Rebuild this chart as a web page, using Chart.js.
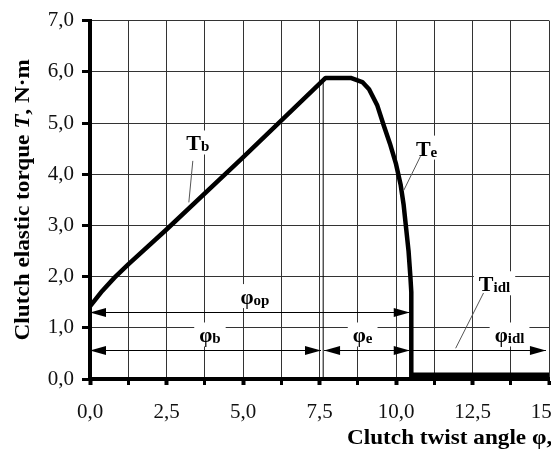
<!DOCTYPE html>
<html>
<head>
<meta charset="utf-8">
<script src="https://cdn.jsdelivr.net/npm/chart.js@4"></script>
<style>
  html, body { margin: 0; padding: 0; background: #fff; overflow: hidden; }
  #wrap { width: 600px; height: 452px; }
</style>
</head>
<body>
<div id="wrap"><canvas id="chart" width="600" height="452"></canvas></div>
<script>
// DATA
const curveX = [0, 0.4, 0.8, 1.25, 2.5, 5.0, 7.7, 8.52, 8.9, 9.12, 9.39, 9.6, 9.8, 10.0, 10.15, 10.25, 10.33, 10.41, 10.47, 10.5, 10.5];
const curveY = [1.42, 1.72, 1.98, 2.24, 2.92, 4.33, 5.88, 5.88, 5.8, 5.66, 5.34, 4.95, 4.6, 4.2, 3.8, 3.4, 2.95, 2.5, 2.0, 1.7, 0];
const markerX = [7.62, 7.62];
const markerY = [0, 5.88];
const idleX = [10.5, 15];
const idleY = [0.07, 0.07];

// dimension arrows: y level, from, to, heads
const arrowY = [1.3, 0.57, 0.57, 0.57];
const arrowFrom = [0, 0, 7.65, 10.55];
const arrowTo = [10.45, 7.55, 10.45, 14.9];
const arrowLeftHead = [true, true, true, false];

// labels: symbol, subscript, position
const labelMain = ["T", "T", "T", "φ", "φ", "φ", "φ"];
const labelSub = ["b", "e", "idl", "op", "b", "e", "idl"];
const labelX = [3.52, 11.0, 13.22, 5.39, 3.92, 8.91, 13.71];
const labelY = [4.6, 4.5, 1.85, 1.6, 0.85, 0.85, 0.85];

// leader lines from label to curve
const leaderX1 = [3.36, 10.8, 12.86];
const leaderY1 = [4.26, 4.35, 1.68];
const leaderX2 = [3.23, 10.25, 11.95];
const leaderY2 = [3.45, 3.68, 0.6];

const SERIF = '"Liberation Serif", "Times New Roman", serif';

function pts(xs, ys) {
  return xs.map((x, i) => ({ x, y: ys[i] }));
}

function fmt(v) {
  return v.toFixed(1).replace(".", ",");
}

function drawRich(ctx, parts, cx, cy) {
  let total = 0;
  parts.forEach(p => { ctx.font = p.font; p.w = ctx.measureText(p.text).width; total += p.w; });
  let x = cx - total / 2;
  parts.forEach(p => {
    ctx.font = p.font;
    ctx.fillText(p.text, x, cy + (p.dy || 0));
    x += p.w;
  });
  return total;
}

function labelParts(main, sub) {
  const big = main === "T" ? 22 : 21;
  return [
    { text: main, font: `bold ${big}px ${SERIF}` },
    { text: sub, font: `bold 15px ${SERIF}`, dy: 1 }
  ];
}

const annotate = {
  id: "annotate",
  beforeDatasetsDraw(chart) {
    const { ctx, scales: { x, y } } = chart;
    ctx.save();
    ctx.fillStyle = "#fff";
    labelMain.forEach((m, i) => {
      const parts = labelParts(m, labelSub[i]);
      let w = 0;
      parts.forEach(p => { ctx.font = p.font; w += ctx.measureText(p.text).width; });
      const cx = x.getPixelForValue(labelX[i]);
      const cy = y.getPixelForValue(labelY[i]);
      ctx.fillRect(cx - w / 2 - 5, cy - 13, w + 10, 24);
    });
    ctx.restore();
  },
  afterDatasetsDraw(chart) {
    const { ctx, scales: { x, y } } = chart;
    ctx.save();
    ctx.strokeStyle = "#000";
    ctx.fillStyle = "#000";
    ctx.lineWidth = 1;

    // arrows
    arrowY.forEach((v, i) => {
      const py = Math.round(y.getPixelForValue(v)) + 0.5;
      const x1 = x.getPixelForValue(arrowFrom[i]);
      const x2 = x.getPixelForValue(arrowTo[i]);
      ctx.beginPath();
      ctx.moveTo(x1, py);
      ctx.lineTo(x2, py);
      ctx.stroke();
      const head = (tip, dir) => {
        ctx.beginPath();
        ctx.moveTo(tip, py);
        ctx.lineTo(tip - dir * 16, py - 4.5);
        ctx.lineTo(tip - dir * 16, py + 4.5);
        ctx.closePath();
        ctx.fill();
      };
      head(x2, 1);
      if (arrowLeftHead[i]) head(x1, -1);
    });

    // leaders
    ctx.strokeStyle = "#555";
    leaderX1.forEach((v, i) => {
      ctx.beginPath();
      ctx.moveTo(x.getPixelForValue(v), y.getPixelForValue(leaderY1[i]));
      ctx.lineTo(x.getPixelForValue(leaderX2[i]), y.getPixelForValue(leaderY2[i]));
      ctx.stroke();
    });

    // labels
    ctx.fillStyle = "#000";
    ctx.textBaseline = "alphabetic";
    labelMain.forEach((m, i) => {
      const cx = x.getPixelForValue(labelX[i]);
      const cy = y.getPixelForValue(labelY[i]);
      drawRich(ctx, labelParts(m, labelSub[i]), cx, cy + 7);
    });
    ctx.restore();
  },
  afterDraw(chart) {
    const { ctx, chartArea } = chart;
    const stretch = 1.16;
    ctx.save();
    ctx.fillStyle = "#000";
    ctx.textBaseline = "middle";
    // y axis title
    ctx.translate(24, (chartArea.top + chartArea.bottom) / 2);
    ctx.rotate(-Math.PI / 2);
    ctx.scale(stretch, 1);
    drawRich(ctx, [
      { text: "Clutch elastic torque ", font: `bold 20px ${SERIF}` },
      { text: "T", font: `italic bold 20px ${SERIF}` },
      { text: ", N·m", font: `bold 20px ${SERIF}` }
    ], 0, 0);
    ctx.restore();

    // x axis title
    ctx.save();
    ctx.fillStyle = "#000";
    ctx.textBaseline = "middle";
    ctx.textAlign = "left";
    ctx.font = `bold 20px ${SERIF}`;
    ctx.translate(chartArea.left + 257, 439);
    ctx.scale(stretch, 1);
    ctx.fillText("Clutch twist angle φ, deg", 0, 0);
    ctx.restore();
  }
};

new Chart(document.getElementById("chart"), {
  type: "line",
  data: {
    datasets: [
      {
        label: "marker",
        data: pts(markerX, markerY),
        borderColor: "#000",
        borderWidth: 1,
        pointRadius: 0
      },
      {
        label: "T",
        data: pts(curveX, curveY),
        borderColor: "#000",
        borderWidth: 4.5,
        borderJoinStyle: "round",
        pointRadius: 0,
        tension: 0
      },
      {
        label: "Tidl",
        data: pts(idleX, idleY),
        borderColor: "#000",
        borderWidth: 6,
        pointRadius: 0
      }
    ]
  },
  options: {
    responsive: false,
    animation: false,
    layout: { padding: { top: 16, right: 51, left: 0, bottom: 0 } },
    plugins: { legend: { display: false }, tooltip: { enabled: false } },
    scales: {
      x: {
        type: "linear",
        min: 0,
        max: 15,
        afterFit(s) { s.height = 73; },
        ticks: {
          stepSize: 1.25,
          autoSkip: false,
          maxRotation: 0,
          padding: 15,
          color: "#111",
          font: { family: SERIF, size: 21 },
          callback: v => (Math.abs(v / 2.5 - Math.round(v / 2.5)) < 1e-6 ? fmt(v) : "")
        },
        grid: {
          color: "#333",
          lineWidth: 1,
          tickLength: 6,
          tickColor: "#000",
          tickWidth: c => (Math.abs(c.tick.value / 2.5 - Math.round(c.tick.value / 2.5)) < 1e-6 ? 4 : 3)
        },
        border: { color: "#000", width: 4 }
      },
      y: {
        min: 0,
        max: 7,
        afterFit(s) { s.width = 90; },
        ticks: {
          stepSize: 1,
          padding: 8,
          color: "#111",
          font: { family: SERIF, size: 21 },
          callback: v => fmt(v)
        },
        grid: {
          color: "#333",
          lineWidth: 1,
          tickLength: 8,
          tickColor: "#000",
          tickWidth: 3
        },
        border: { color: "#000", width: 4 }
      }
    }
  },
  plugins: [annotate]
});
</script>
</body>
</html>
